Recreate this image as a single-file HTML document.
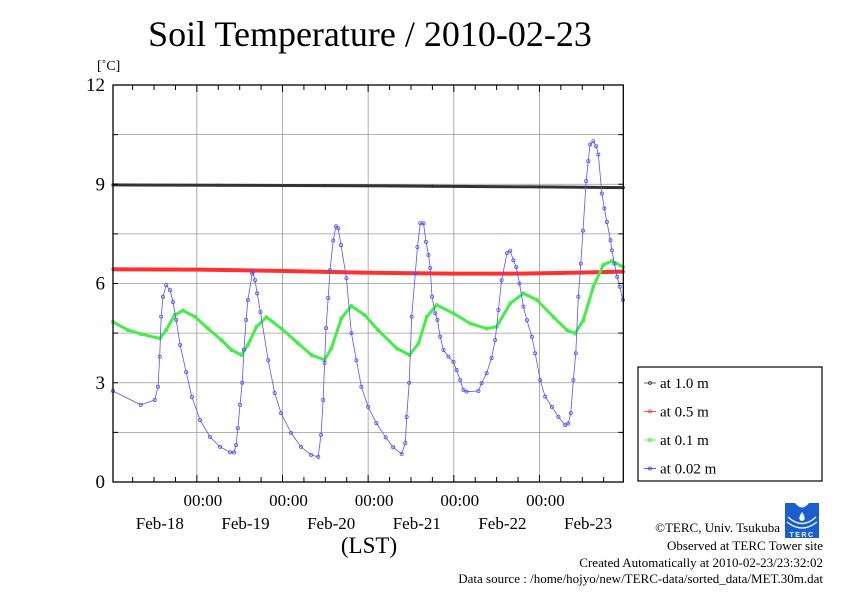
<!DOCTYPE html>
<html><head><meta charset="utf-8"><style>
html,body{margin:0;padding:0;background:#fff;}
svg{display:block;font-family:"Liberation Serif",serif;}
</style></head><body>
<svg id="chart" width="842" height="595" viewBox="0 0 842 595" xmlns="http://www.w3.org/2000/svg">
<text x="370" y="46" font-size="36" text-anchor="middle">Soil Temperature / 2010-02-23</text>
<text x="97" y="70" font-size="14">[˚C]</text>
<g id="grid"></g>
<g id="series"></g>
<rect x="113" y="85" width="510.3" height="397" fill="none" stroke="#000" stroke-width="1.3"/>
<g id="axes"></g>
<text x="369" y="553" font-size="23" text-anchor="middle">(LST)</text>
<g>
<rect x="638" y="367" width="184" height="114" fill="#fff" stroke="#000" stroke-width="1.2"/>
<g id="legend-items"></g>
</g>
<g>
<rect x="785" y="503" width="34" height="35" fill="#1a5fd0"/>
<path d="M795 503 Q802 512 809 503 Z" fill="#fff"/>
<path d="M802 512 Q806 518 804 520 Q802 522 800 520 Q798 518 802 512 Z" fill="#fff"/>
<path d="M788 517 Q802 530 816 517" fill="none" stroke="#fff" stroke-width="1.2"/>
<path d="M787 522 Q802 534 817 522" fill="none" stroke="#fff" stroke-width="1.2"/>
<text x="802" y="537" font-size="7" fill="#fff" text-anchor="middle" font-family="Liberation Sans, sans-serif" font-weight="bold" letter-spacing="1.5">TERC</text>
</g>
<g font-size="13" text-anchor="end">
<text x="780" y="532">©TERC, Univ. Tsukuba</text>
<text x="823" y="550">Observed at TERC Tower site</text>
<text x="823" y="567">Created Automatically at 2010-02-23/23:32:02</text>
<text x="823" y="583">Data source : /home/hojyo/new/TERC-data/sorted_data/MET.30m.dat</text>
</g>
</svg>
<script>
// hours since Feb-17 00:00
const dayLabels = ["Feb-18","Feb-19","Feb-20","Feb-21","Feb-22","Feb-23"];
const yTicks = [0,3,6,9,12];
const seriesNames = ["at 1.0 m","at 0.5 m","at 0.1 m","at 0.02 m"];
const seriesColors = ["#333333","#ff3030","#33ee33","#3333ff"];
const t100 = [0.5,30,60,90,120,143.5];
const v100 = [8.98,8.97,8.96,8.94,8.92,8.9];
const t050 = [0.5,25,47,70,95,115,131,143.5];
const v050 = [6.43,6.42,6.38,6.33,6.3,6.3,6.33,6.36];
const t010 = [0.5,4.7,8.4,13.6,15.4,17.8,20.1,23.4,27.1,30.9,33.7,36.5,38.3,40.7,43.5,47.7,52.4,56.1,59.8,61.7,64.5,67.3,71.0,74.8,80.0,83.6,86.1,88.4,91.2,95.9,100.6,105.2,108.0,111.8,115.5,119.3,123.9,127.7,130.0,132.3,135.1,137.9,140.3,143.5];
const v010 = [4.84,4.59,4.47,4.34,4.59,5.05,5.18,5.0,4.64,4.29,3.99,3.84,4.14,4.69,4.98,4.64,4.19,3.84,3.69,4.04,4.95,5.32,5.05,4.59,4.04,3.84,4.19,4.99,5.35,5.1,4.79,4.64,4.69,5.4,5.7,5.5,4.99,4.59,4.49,4.89,5.9,6.56,6.68,6.5];
const t002 = [0.5,8.3,12.2,13.1,13.6,14.0,14.5,15.4,16.5,17.3,18.2,19.3,21.0,22.6,24.9,27.7,30.5,33.3,34.4,35.0,35.5,36.1,36.7,37.2,37.8,38.3,39.5,39.7,40.3,40.9,41.8,44.0,45.8,47.6,50.4,53.2,56.0,58.0,58.8,59.4,59.8,60.2,60.8,61.3,62.2,63.0,63.6,64.4,65.9,67.3,68.7,70.1,72.0,74.3,76.9,79.0,81.4,82.4,82.8,83.5,84.2,85.2,85.8,86.6,87.5,88.2,88.9,89.4,89.9,90.8,91.4,92.2,93.1,94.5,95.9,96.8,97.8,98.7,99.6,102.9,103.8,105.2,106.6,107.6,108.5,109.4,110.9,111.8,112.7,113.5,114.4,115.5,116.5,117.9,118.8,120.2,121.6,123.5,125.3,127.2,128.1,128.8,129.5,130.2,130.9,131.6,132.2,133.1,133.7,134.2,135.1,135.9,136.5,137.5,138.2,138.9,139.9,140.3,141.0,141.8,142.5,143.4];
const v002 = [2.75,2.33,2.48,2.88,3.79,5.0,5.6,5.95,5.8,5.44,4.9,4.14,3.32,2.57,1.87,1.36,1.06,0.9,0.89,1.12,1.63,2.33,3.0,4.0,4.9,5.5,6.3,6.35,6.1,5.7,5.14,3.68,2.69,2.08,1.48,1.06,0.82,0.76,1.42,2.48,3.6,4.65,5.56,6.4,7.3,7.73,7.67,7.16,6.16,4.5,3.68,2.88,2.27,1.78,1.35,1.05,0.85,1.18,1.97,3.0,5.0,6.3,7.1,7.82,7.82,7.26,6.86,6.47,5.6,5.1,4.9,4.39,3.99,3.79,3.63,3.38,3.08,2.78,2.73,2.75,2.99,3.29,3.75,4.29,5.2,6.1,6.92,6.99,6.7,6.5,6.0,5.3,4.89,4.39,3.89,3.08,2.58,2.27,1.97,1.72,1.77,2.08,3.08,3.89,5.6,6.6,7.6,9.1,9.7,10.2,10.3,10.15,9.9,8.72,8.27,7.86,7.31,7.0,6.6,6.2,5.9,5.5];

const NS="http://www.w3.org/2000/svg";
const X0=113,X1=623.3,T0=0.5,T1=143.5,Y0=482,Y1=85,VMAX=12;
function xs(t){return X0+(t-T0)*(X1-X0)/(T1-T0);}
function ys(v){return Y0-v*(Y0-Y1)/VMAX;}
function mk(tag,attrs,parent){const e=document.createElementNS(NS,tag);for(const k in attrs)e.setAttribute(k,attrs[k]);parent.appendChild(e);return e;}
const grid=document.getElementById('grid'),axes=document.getElementById('axes'),ser=document.getElementById('series');

for(let v=1.5;v<VMAX;v+=1.5){
  const l=mk('line',{x1:X0,x2:X1,y1:ys(v),y2:ys(v),stroke:'#999','stroke-width':0.8},grid);
  
  
  for(const xx of [[X0,X0+5],[X1-5,X1]]){
    const tk=mk('line',{x1:xx[0],x2:xx[1],y1:ys(v),y2:ys(v),stroke:'#000','stroke-width':1},axes);
    
    
  }
}
yTicks.forEach(v=>{
  const t=mk('text',{x:105,y:ys(v)+6,'font-size':19,'text-anchor':'end'},axes);
  t.textContent=String(v);
  
  
});
dayLabels.forEach((d,i)=>{
  const t=24*(i+1);
  if(t<T1){
    const g=mk('line',{x1:xs(t),x2:xs(t),y1:Y1,y2:Y0,stroke:'#999','stroke-width':0.8},grid);
    
    
    const a=mk('text',{x:xs(t)+6,y:506,'font-size':17,'text-anchor':'middle'},axes);
    a.textContent='00:00';
    
    
  }
  const b=mk('text',{x:xs(t)-37,y:529,'font-size':17,'text-anchor':'middle'},axes);
  b.textContent=d;
  
  
});
for(let t=6;t<T1;t+=6){
  const len=(t%24===0)?7:5;
  for(const yy of [[Y1,Y1+len],[Y0-len,Y0]]){
    const tk=mk('line',{x1:xs(t),x2:xs(t),y1:yy[0],y2:yy[1],stroke:'#000','stroke-width':1},axes);
    
    
  }
}
function drawSeries(ts,vs,color,lw,r,name){
  const g=mk('g',{},ser);
  
  
  const pts=ts.map((t,i)=>xs(t).toFixed(1)+','+ys(vs[i]).toFixed(1)).join(' ');
  mk('polyline',{points:pts,fill:'none',stroke:color,'stroke-width':lw,'stroke-linejoin':'round'},g);
  ts.forEach((t,i)=>{
    const c=mk('circle',{cx:xs(t),cy:ys(vs[i]),r:r,fill:'none',stroke:color,'stroke-width':0.8},g);
    
    
  });
}
drawSeries(t100,v100,'#333333',3,1.2,'series-1-0m');
drawSeries(t050,v050,'#ff3030',4,1.2,'series-0-5m');
drawSeries(t010,v010,'#44ee44',3,1.6,'series-0-1m');
drawSeries(t002,v002,'#5555ff',0.8,1.6,'series-0-02m');

const leg=document.getElementById('legend-items');
seriesNames.forEach((n,i)=>{
  const y=383+28.5*i;
  const g=mk('g',{},leg);
  
  
  mk('line',{x1:644,x2:656,y1:y,y2:y,stroke:seriesColors[i],'stroke-width':0.8},g);
  mk('circle',{cx:650,cy:y,r:1.5,fill:'none',stroke:seriesColors[i],'stroke-width':0.8},g);
  const t=mk('text',{x:660,y:y+5,'font-size':15},g);
  t.textContent=n;
});
</script>
</body></html>
